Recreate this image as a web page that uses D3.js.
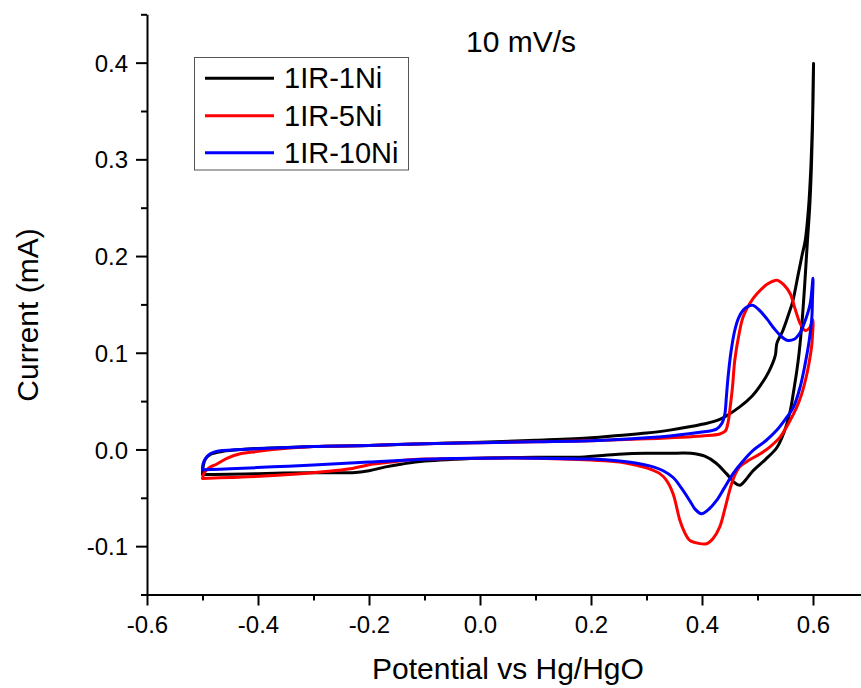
<!DOCTYPE html>
<html><head><meta charset="utf-8">
<script src="https://cdn.jsdelivr.net/npm/d3@7"></script>
<style>
body{margin:0;background:#fff}
svg{display:block}
text{font-family:"Liberation Sans",Arial,sans-serif;fill:#000}
</style>
</head><body>
<svg id="c" width="861" height="688"></svg>
<script>
// ---------- data ----------
const seriesNames = ["1IR-1Ni", "1IR-5Ni", "1IR-10Ni"];
const seriesColors = ["#000000", "#ff0000", "#0000ff"];
const chartTitle = "10 mV/s";
const xTitle = "Potential vs Hg/HgO";
const yTitle = "Current (mA)";

// 1IR-1Ni (forward scan then reverse scan)
const potential1Ni = [-0.500,-0.499,-0.495,-0.485,-0.463,-0.430,-0.400,-0.300,-0.200,-0.100,0.000,0.100,0.200,0.250,0.300,0.342,0.400,0.432,0.468,0.490,0.505,0.520,0.532,0.535,0.545,0.555,0.563,0.573,0.580,0.586,0.592,0.596,0.598,0.600,0.601,
  0.600,0.599,0.597,0.594,0.590,0.585,0.580,0.575,0.571,0.565,0.559,0.548,0.535,0.515,0.492,0.478,0.468,0.458,0.444,0.425,0.405,0.380,0.340,0.300,0.250,0.180,0.100,0.000,-0.100,-0.140,-0.170,-0.200,-0.230,-0.300,-0.400,-0.480,-0.500];
const current1Ni = [-0.026,-0.018,-0.010,-0.005,-0.002,0.000,0.001,0.003,0.004,0.006,0.0075,0.0095,0.012,0.0145,0.017,0.020,0.026,0.031,0.044,0.055,0.066,0.080,0.097,0.110,0.122,0.138,0.152,0.180,0.200,0.216,0.250,0.290,0.320,0.360,0.399,
  0.370,0.330,0.290,0.250,0.216,0.170,0.130,0.100,0.082,0.060,0.040,0.018,0.002,-0.010,-0.022,-0.032,-0.037,-0.034,-0.025,-0.014,-0.007,-0.004,-0.004,-0.004,-0.005,-0.008,-0.008,-0.009,-0.012,-0.015,-0.018,-0.022,-0.024,-0.024,-0.025,-0.026,-0.026];

// 1IR-5Ni
const potential5Ni = [-0.500,-0.497,-0.488,-0.474,-0.455,-0.432,-0.400,-0.373,-0.300,-0.200,-0.100,0.000,0.100,0.200,0.300,0.400,0.432,0.442,0.447,0.450,0.455,0.459,0.466,0.474,0.486,0.499,0.518,0.535,0.548,0.559,0.568,0.577,0.586,0.593,0.600,
  0.599,0.598,0.594,0.589,0.580,0.571,0.556,0.541,0.523,0.505,0.485,0.468,0.458,0.450,0.441,0.432,0.420,0.408,0.393,0.378,0.368,0.360,0.348,0.336,0.324,0.300,0.282,0.252,0.200,0.100,0.000,-0.100,-0.132,-0.160,-0.192,-0.234,-0.283,-0.372,-0.450,-0.500];
const current5Ni = [-0.030,-0.024,-0.019,-0.015,-0.009,-0.0045,-0.002,0.000,0.003,0.004,0.006,0.007,0.008,0.009,0.011,0.014,0.016,0.019,0.028,0.040,0.065,0.092,0.117,0.137,0.151,0.161,0.171,0.175,0.170,0.161,0.145,0.130,0.123,0.125,0.134,
  0.118,0.109,0.093,0.078,0.058,0.044,0.027,0.013,0.003,-0.0045,-0.011,-0.018,-0.028,-0.042,-0.062,-0.080,-0.092,-0.0975,-0.097,-0.094,-0.085,-0.073,-0.046,-0.032,-0.025,-0.019,-0.0165,-0.013,-0.011,-0.009,-0.009,-0.010,-0.011,-0.013,-0.015,-0.020,-0.023,-0.027,-0.029,-0.030];

// 1IR-10Ni
const potential10Ni = [-0.500,-0.499,-0.494,-0.486,-0.475,-0.463,-0.430,-0.402,-0.300,-0.200,-0.100,0.000,0.100,0.200,0.300,0.342,0.400,0.426,0.436,0.441,0.444,0.447,0.452,0.459,0.466,0.474,0.483,0.492,0.505,0.517,0.530,0.541,0.553,0.566,0.577,0.587,0.595,0.600,
  0.599,0.598,0.593,0.586,0.577,0.565,0.550,0.535,0.515,0.492,0.474,0.456,0.440,0.426,0.412,0.399,0.388,0.378,0.363,0.348,0.330,0.312,0.280,0.252,0.200,0.100,0.000,-0.072,-0.200,-0.300,-0.373,-0.450,-0.500];
const current10Ni = [-0.021,-0.015,-0.009,-0.0045,-0.002,-0.001,0.000,0.0007,0.003,0.004,0.006,0.007,0.008,0.009,0.012,0.014,0.018,0.021,0.027,0.036,0.055,0.075,0.100,0.123,0.136,0.144,0.148,0.149,0.143,0.135,0.125,0.118,0.113,0.114,0.121,0.135,0.151,0.177,
  0.155,0.137,0.112,0.089,0.065,0.044,0.031,0.020,0.009,-0.001,-0.012,-0.025,-0.040,-0.053,-0.062,-0.0665,-0.062,-0.053,-0.040,-0.029,-0.022,-0.018,-0.014,-0.012,-0.010,-0.009,-0.009,-0.0096,-0.013,-0.016,-0.018,-0.020,-0.021];

const xTicks = [-0.6, -0.4, -0.2, 0.0, 0.2, 0.4, 0.6];
const xTickLabels = ["-0.6", "-0.4", "-0.2", "0.0", "0.2", "0.4", "0.6"];
const xMinorTicks = [-0.5, -0.3, -0.1, 0.1, 0.3, 0.5];
const yTicks = [-0.1, 0.0, 0.1, 0.2, 0.3, 0.4];
const yTickLabels = ["-0.1", "0.0", "0.1", "0.2", "0.3", "0.4"];
const yMinorTicks = [-0.15, -0.05, 0.05, 0.15, 0.25, 0.35, 0.45];

// ---------- chart ----------
const svg = d3.select("#c");
svg.append("rect").attr("width", 861).attr("height", 688).attr("fill", "#ffffff");

const x = d3.scaleLinear().domain([-0.6, 0.7]).range([147, 868.5]);
const y = d3.scaleLinear().domain([-0.15, 0.45]).range([594.5, 14.3]);

const series = [
  {name: seriesNames[0], color: seriesColors[0], xs: potential1Ni, ys: current1Ni},
  {name: seriesNames[1], color: seriesColors[1], xs: potential5Ni, ys: current5Ni},
  {name: seriesNames[2], color: seriesColors[2], xs: potential10Ni, ys: current10Ni}
];

const line = d3.line()
  .x(d => x(d[0])).y(d => y(d[1]))
  .curve(d3.curveCatmullRom.alpha(0.5));

series.forEach(s => {
  svg.append("path")
    .datum(s.xs.map((v, i) => [v, s.ys[i]]))
    .attr("fill", "none")
    .attr("stroke", s.color)
    .attr("stroke-width", 3)
    .attr("stroke-linejoin", "round")
    .attr("stroke-linecap", "round")
    .attr("d", line);
});

// axes
const xAxisG = svg.append("g").attr("transform", `translate(0,${y(-0.15)})`);
xAxisG.call(d3.axisBottom(x).tickValues(xTicks).tickFormat((d, i) => xTickLabels[i]).tickSizeInner(11).tickSizeOuter(0));
xAxisG.append("g").call(d3.axisBottom(x).tickValues(xMinorTicks).tickFormat("").tickSizeInner(6).tickSizeOuter(0))
  .select(".domain").remove();

const yAxisG = svg.append("g").attr("transform", `translate(${x(-0.6)},0)`);
yAxisG.call(d3.axisLeft(y).tickValues(yTicks).tickFormat((d, i) => yTickLabels[i]).tickSizeInner(11).tickSizeOuter(0));
yAxisG.append("g").call(d3.axisLeft(y).tickValues(yMinorTicks).tickFormat("").tickSizeInner(6).tickSizeOuter(0))
  .select(".domain").remove();

[xAxisG, yAxisG].forEach(g => {
  g.selectAll(".domain").attr("stroke", "#000").attr("stroke-width", 2);
  g.selectAll(".tick line").attr("stroke", "#000").attr("stroke-width", 2);
  g.selectAll(".tick text").attr("font-size", 24).attr("font-family", '"Liberation Sans",Arial,sans-serif').attr("fill", "#000");
});
xAxisG.selectAll(".tick text").attr("y", 38).attr("dy", 0);
yAxisG.selectAll(".tick text").attr("x", -19).attr("dy", "0.36em");

// titles
svg.append("text").attr("x", 521).attr("y", 52).attr("text-anchor", "middle")
  .attr("font-size", 30).text(chartTitle);
svg.append("text").attr("x", 508).attr("y", 679).attr("text-anchor", "middle")
  .attr("font-size", 30).text(xTitle);
svg.append("text").attr("transform", "translate(38,315) rotate(-90)").attr("text-anchor", "middle")
  .attr("font-size", 30).text(yTitle);

// legend
const lg = svg.append("g");
lg.append("rect").attr("x", 194.5).attr("y", 57.5).attr("width", 214).attr("height", 112.5)
  .attr("fill", "#ffffff").attr("stroke", "#555").attr("stroke-width", 1);
const legendY = [78.3, 115.7, 152.7];
series.forEach((s, i) => {
  lg.append("line").attr("x1", 205).attr("x2", 274).attr("y1", legendY[i]).attr("y2", legendY[i])
    .attr("stroke", s.color).attr("stroke-width", 3);
  lg.append("text").attr("x", 284).attr("y", legendY[i] + 10).attr("font-size", 29).text(s.name);
});
</script>
</body></html>
